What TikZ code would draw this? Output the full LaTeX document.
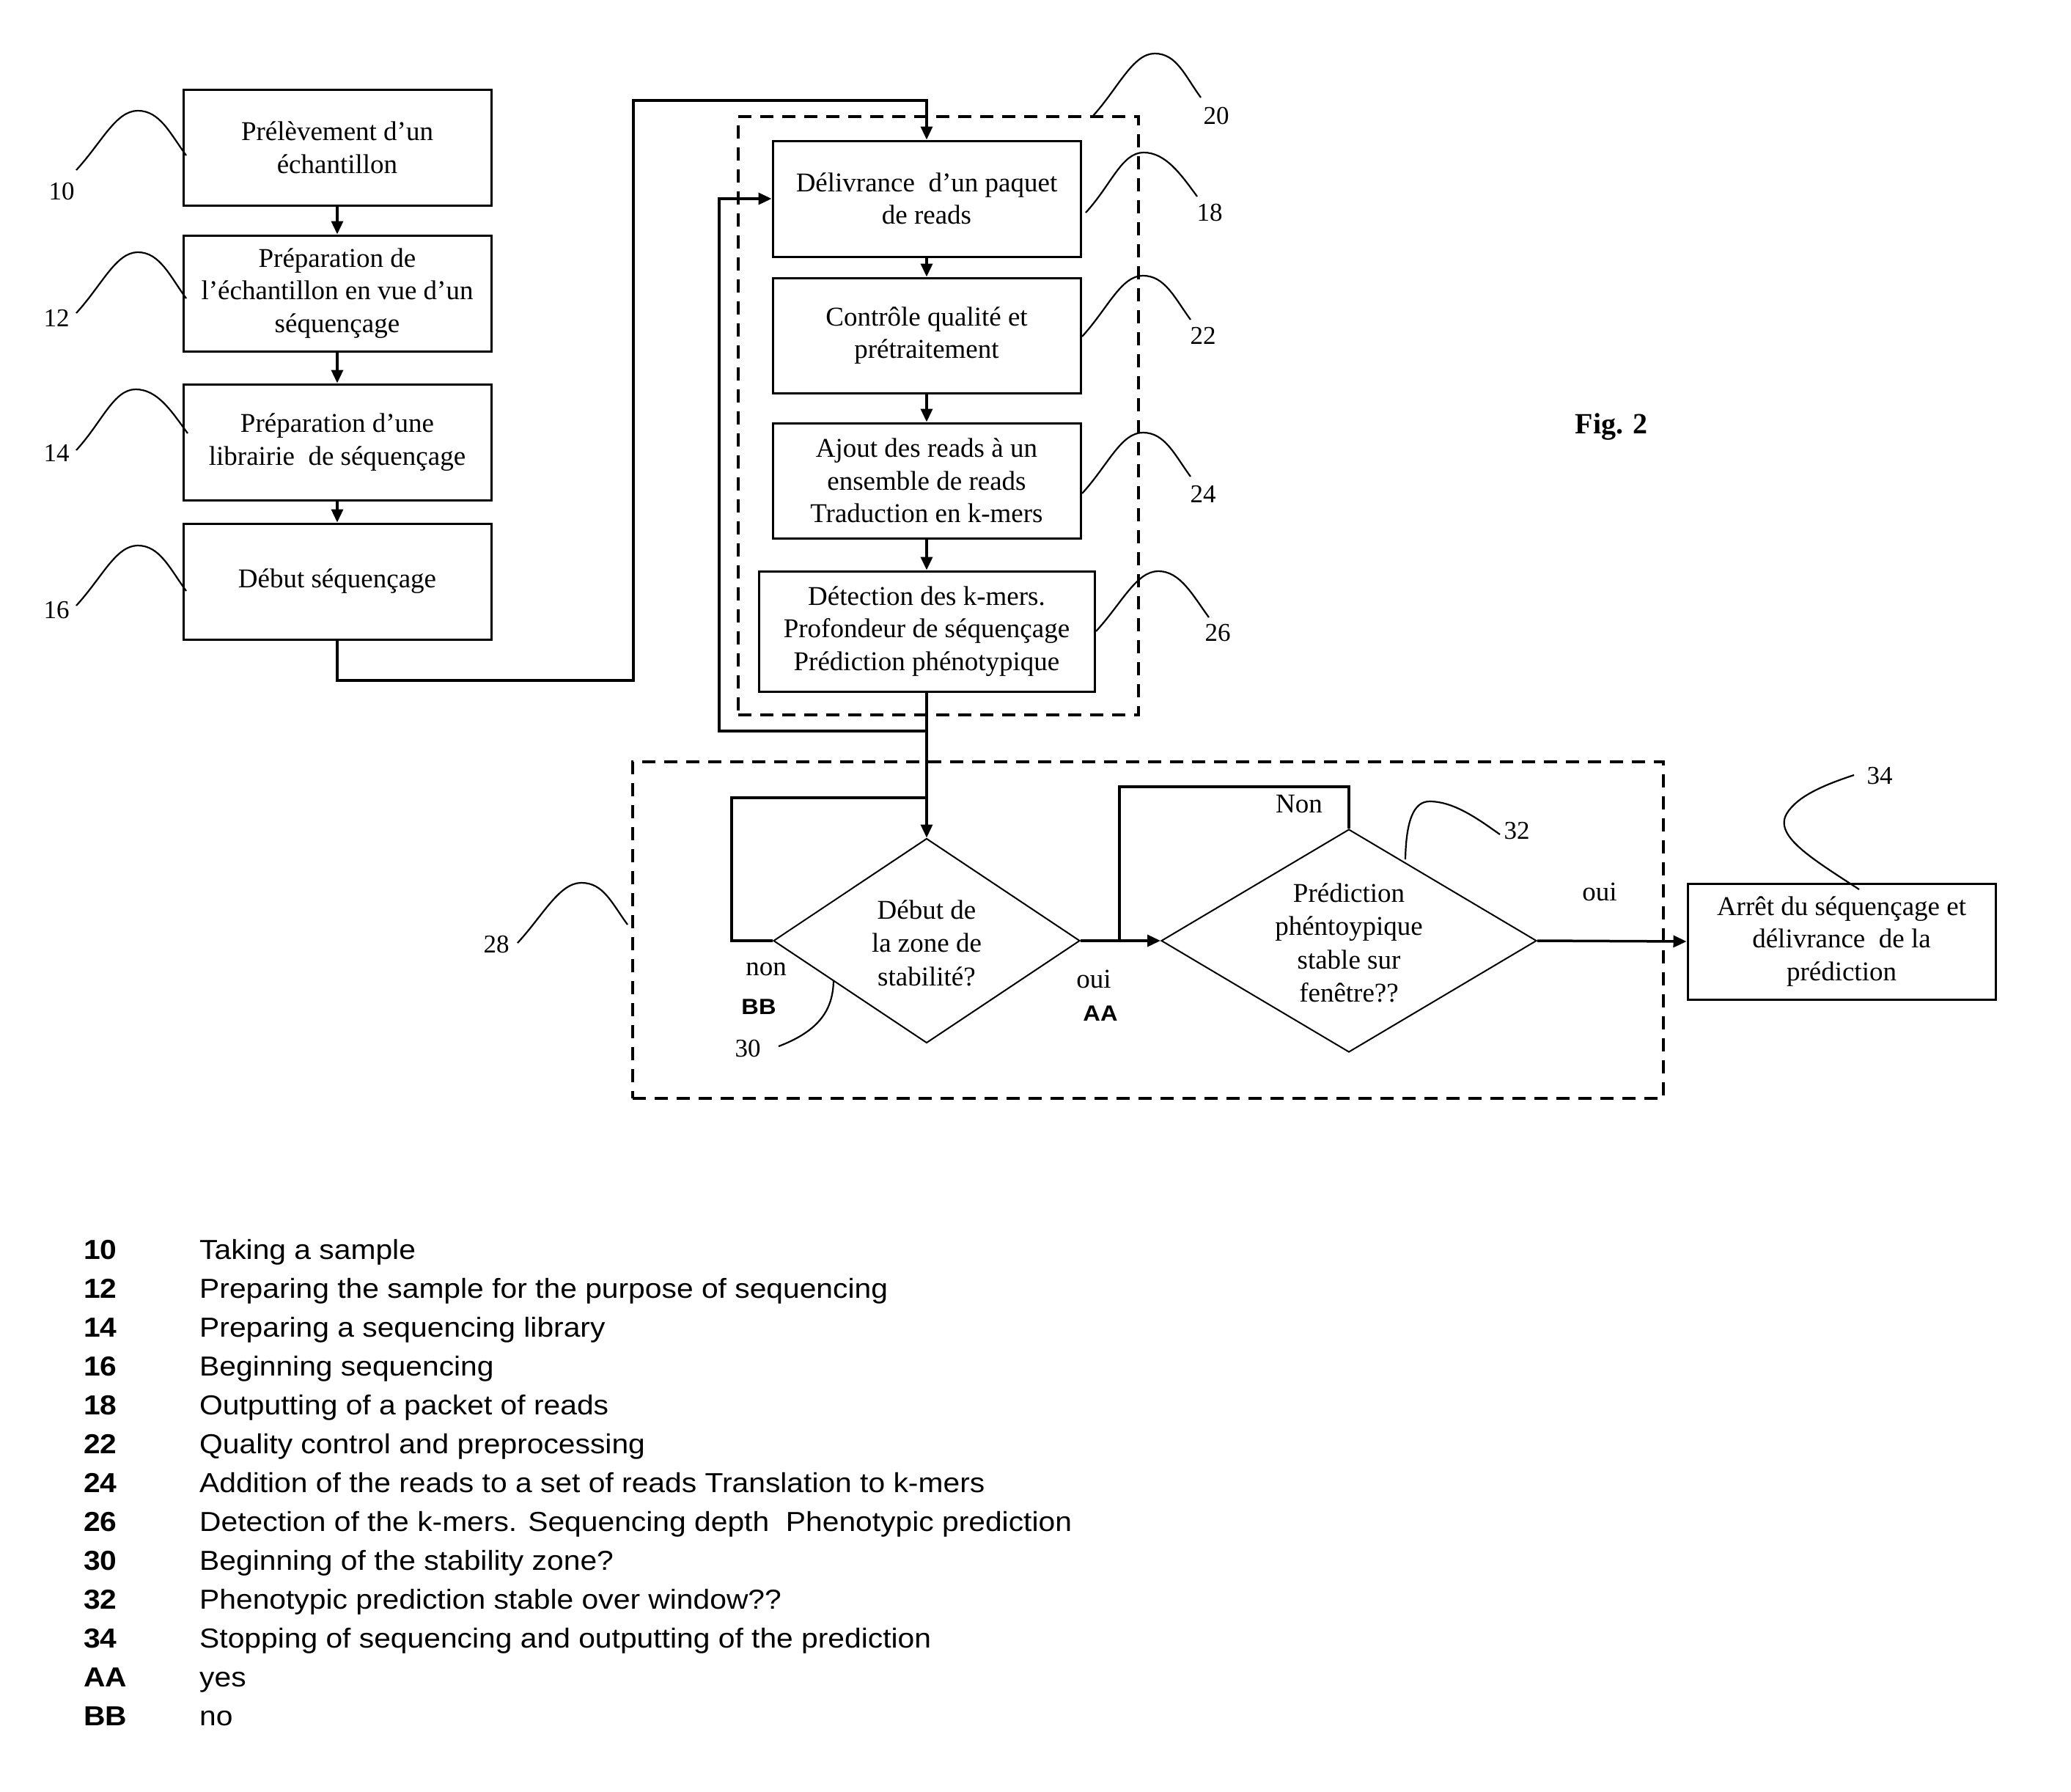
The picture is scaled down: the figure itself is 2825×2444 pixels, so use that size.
\documentclass[tikz,border=0pt]{standalone}
\usepackage{fontspec}
\setmainfont{Liberation Serif}
\newfontfamily\arialf{Liberation Sans}[FakeStretch=1.088]
\usetikzlibrary{arrows.meta,shapes.geometric,calc}
\newcommand\hookline[3]{\draw[call] (#1) .. controls ($(#1)+(35,-38)$) and ($(#2)+(-30,0)$) .. (#2) .. controls ($(#2)+(30,0)$) and ($(#3)+(-22,-30)$) .. (#3);}
\begin{document}
\begin{tikzpicture}[x=1pt,y=-1pt,
 box/.style={draw,line width=3pt,inner sep=0pt,align=center,minimum width=420pt,minimum height=158pt,font=\fontsize{37}{44.5}\selectfont},
 dia/.style={draw,diamond,line width=2pt,inner sep=0pt},
 diatext/.style={align=center,inner sep=0pt,font=\fontsize{37}{45.5}\selectfont},
 conn/.style={line width=3.5pt},
 arr/.style={line width=3.5pt,-{Triangle[length=18pt,width=16pt]}},
 dashbox/.style={draw,line width=3.5pt,dash pattern=on 18pt off 12pt,inner sep=0pt},
 call/.style={line width=2.2pt},
 lab/.style={inner sep=0pt,font=\fontsize{35}{40}\selectfont},
 small/.style={inner sep=0pt,font=\fontsize{37}{44}\selectfont},
 sans/.style={inner sep=0pt,font=\arialf\bfseries\fontsize{30}{36}\selectfont},
 legn/.style={anchor=base west,inner sep=0pt,font=\arialf\bfseries\fontsize{37.5}{45}\selectfont},
 legt/.style={anchor=base west,inner sep=0pt,font=\arialf\fontsize{37.5}{45}\selectfont}
]
\useasboundingbox (0,0) rectangle (2825,2444);
\fill[white] (0,0) rectangle (2825,2444);

% left column
\node[box] (b10) at (460,201.5) {Prélèvement d’un\\échantillon};
\node[box] (b12) at (460,400) {Préparation de\\l’échantillon en vue d’un\\séquençage};
\node[box] (b14) at (460,603) {Préparation d’une\\librairie\ \ de séquençage};
\node[box] (b16) at (460,793) {Début séquençage};
\draw[arr] (b10) -- (b12);
\draw[arr] (b12) -- (b14);
\draw[arr] (b14) -- (b16);

% group 20
\node[dashbox,minimum width=546pt,minimum height=816pt] (g20) at (1280,567) {};
\node[box] (b18) at (1264,271) {Délivrance\ \ d’un paquet\\de reads};
\node[box,minimum height=157pt] (b22) at (1264,457.5) {Contrôle qualité et\\prétraitement};
\node[box,minimum height=157pt] (b24) at (1264,655.5) {Ajout des reads à un\\ensemble de reads\\Traduction en k-mers};
\node[box,minimum width=458pt,minimum height=164pt] (b26) at (1264,861) {Détection des k-mers.\\Profondeur de séquençage\\Prédiction phénotypique};
\draw[arr] (b18) -- (b22);
\draw[arr] (b22) -- (b24);
\draw[arr] (b24) -- (b26);

% connector 16 -> 18
\coordinate (c1) at (460,928);
\coordinate (c2) at (864,137);
\draw[arr] (b16.south) -- (c1) -| (c2) -| (b18.north);

% group 28
\node[dashbox,minimum width=1406pt,minimum height=459pt] (g28) at (1566,1268.5) {};
\node[dia,minimum width=418pt,minimum height=279pt] (d30) at (1264,1283) {};
\node[diatext] (d30t) at (1264,1286) {Début de\\la zone de\\stabilité?};
\node[dia,minimum width=512pt,minimum height=304pt] (d32) at (1840,1283) {};
\node[diatext] (d32t) at (1840,1286) {Prédiction\\phéntoypique\\stable sur\\fenêtre??};
\node[box] (b34) at (2512,1284) {Arrêt du séquençage et\\délivrance\ \ de la\\prédiction};

\draw[arr] (b26.south) -- (d30.north);
% loop back to 18
\coordinate (l1) at (1264,997);
\coordinate (l2) at (981,997);
\draw[arr] (l1) -- (l2) |- (b18.west);
% loop on d30
\coordinate (l3) at (1264,1088);
\draw[conn] (d30.west) -- ++(-56,0) |- (l3);
% d30 -> d32
\draw[arr] (d30.east) -- (d32.west);
% loop on d32
\coordinate (l4) at (1527,1283);
\draw[conn] (d32.north) -- ++(0,-57) -| (l4);
% d32 -> 34
\draw[arr] (d32.east) -- (b34.west);

% branch labels
\node[small] (tNon) at (1772,1097) {Non};
\node[small] (tnon) at (1045,1322) {non};
\node[sans] (tBB) at (1035,1373) {BB};
\node[small] (toui1) at (1492,1335) {oui};
\node[sans] (tAA) at (1501,1382) {AA};
\node[small] (toui2) at (2182,1216) {oui};

% callouts
\hookline{104,232}{188,151}{254,212}
\hookline{104,427}{188,344}{254,407}
\hookline{104,614}{185,531}{256,591}
\hookline{104,826}{188,744}{254,806}
\hookline{1490,159}{1575,73}{1638,133}
\hookline{1481,290}{1560,208}{1633,268}
\hookline{1476,459}{1559,376}{1624,436}
\hookline{1476,673}{1559,590}{1624,650}
\hookline{1495,861}{1580,779}{1649,842}
\hookline{706,1286}{793,1204}{856,1261}
\draw[call] (1137,1338) .. controls (1136,1375) and (1120,1405) .. (1062,1427);
\draw[call] (1917,1172) .. controls (1918,1120) and (1928,1093) .. (1950,1093) .. controls (1985,1093) and (2020,1120) .. (2046,1138);
\draw[call] (2536,1213) .. controls (2470,1170) and (2420,1140) .. (2437,1110) .. controls (2452,1085) and (2490,1070) .. (2529,1057);

\node[lab] (n10) at (84,261) {10};
\node[lab] (n12) at (77,434) {12};
\node[lab] (n14) at (77,618) {14};
\node[lab] (n16) at (77,832) {16};
\node[lab] (n20) at (1659,158) {20};
\node[lab] (n18) at (1650,290) {18};
\node[lab] (n22) at (1641,458) {22};
\node[lab] (n24) at (1641,674) {24};
\node[lab] (n26) at (1661,863) {26};
\node[lab] (n28) at (677,1288) {28};
\node[lab] (n30) at (1020,1430) {30};
\node[lab] (n32) at (2069,1133) {32};
\node[lab] (n34) at (2564,1058) {34};

\node[inner sep=0pt,font=\bfseries\fontsize{40}{48}\selectfont] (fig) at (2198,582) {Fig. 2};

% legend
\foreach \n/\t [count=\i from 0] in {10/Taking a sample,
 12/Preparing the sample for the purpose of sequencing,
 14/Preparing a sequencing library,
 16/Beginning sequencing,
 18/Outputting of a packet of reads,
 22/Quality control and preprocessing,
 24/Addition of the reads to a set of reads Translation to k-mers,
 26/Detection of the k-mers. Sequencing depth\ \ Phenotypic prediction,
 30/Beginning of the stability zone?,
 32/Phenotypic prediction stable over window??,
 34/Stopping of sequencing and outputting of the prediction,
 AA/yes,
 BB/no}{
 \node[legn] (ln\i) at (114,1717+53*\i) {\n};
 \node[legt] (lt\i) at (272,1717+53*\i) {\t};
}
\end{tikzpicture}
\end{document}
